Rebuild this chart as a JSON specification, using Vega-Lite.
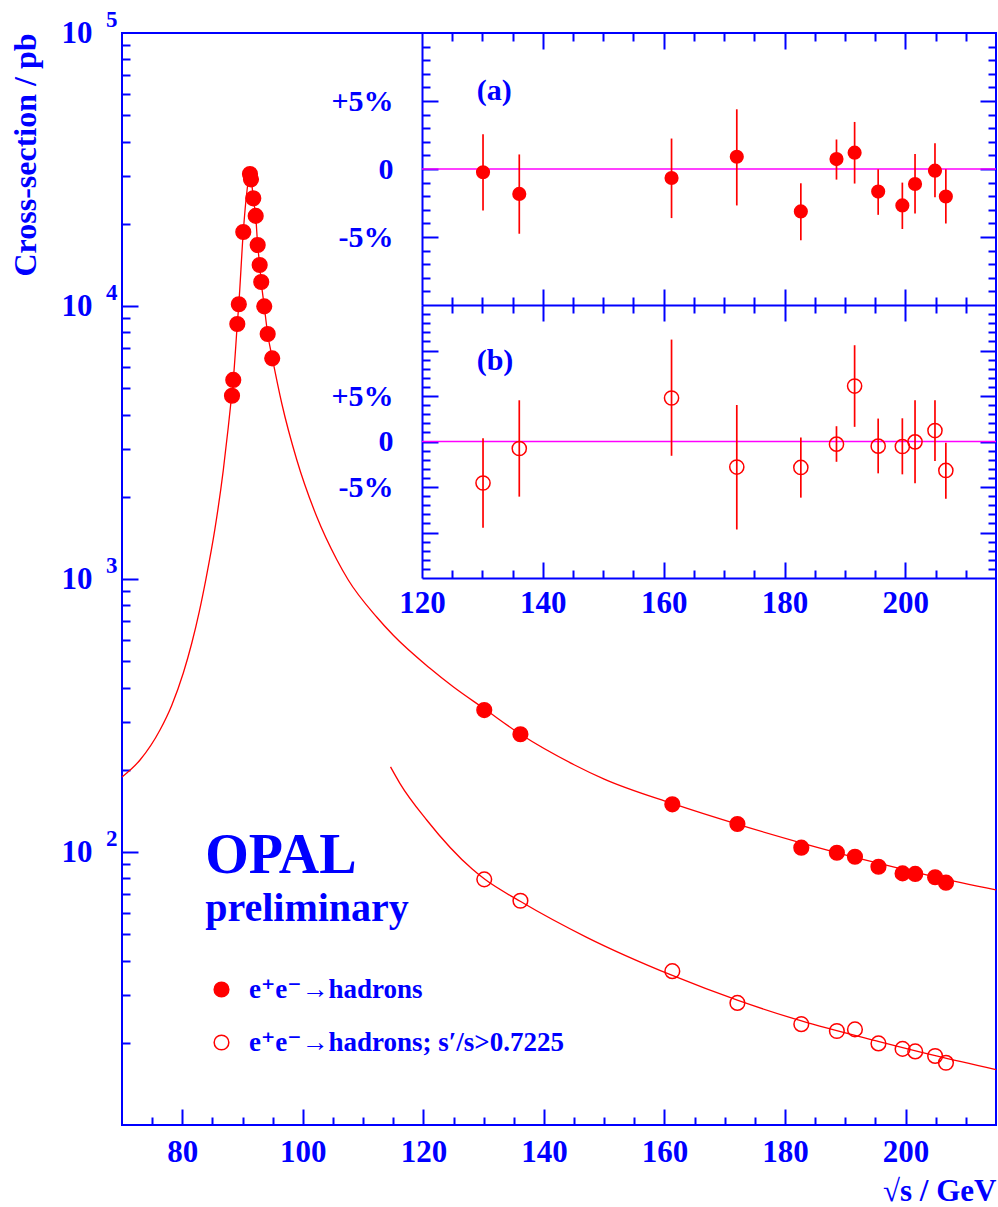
{
  "$schema": "https://vega.github.io/schema/vega-lite/v6.json",
  "width": 874,
  "height": 1092,
  "autosize": {"type": "none"},
  "padding": {"left": 122, "top": 33, "right": 2, "bottom": 82},
  "background": "white",
  "config": {
    "view": {"stroke": "#0000ff", "strokeWidth": 2},
    "axis": {
      "labelFont": "Liberation Serif", "labelFontWeight": "bold", "labelFontSize": 31, "labelColor": "#0000ff",
      "titleFont": "Liberation Serif", "titleFontWeight": "bold", "titleFontSize": 31, "titleColor": "#0000ff",
      "tickColor": "#0000ff", "tickWidth": 2, "domainColor": "#0000ff", "domainWidth": 2,
      "grid": false, "labelFlush": false, "labelOverlap": false
    }
  },
  "datasets": {
    "points": [
      {"E": 88.25, "xsec": 4690, "sample": "e⁺e⁻→hadrons"},
      {"E": 88.46, "xsec": 5360, "sample": "e⁺e⁻→hadrons"},
      {"E": 89.13, "xsec": 8590, "sample": "e⁺e⁻→hadrons"},
      {"E": 89.38, "xsec": 10150, "sample": "e⁺e⁻→hadrons"},
      {"E": 90.12, "xsec": 18660, "sample": "e⁺e⁻→hadrons"},
      {"E": 91.23, "xsec": 30450, "sample": "e⁺e⁻→hadrons"},
      {"E": 91.4, "xsec": 29100, "sample": "e⁺e⁻→hadrons"},
      {"E": 91.78, "xsec": 24800, "sample": "e⁺e⁻→hadrons"},
      {"E": 92.18, "xsec": 21380, "sample": "e⁺e⁻→hadrons"},
      {"E": 92.51, "xsec": 16730, "sample": "e⁺e⁻→hadrons"},
      {"E": 92.84, "xsec": 14130, "sample": "e⁺e⁻→hadrons"},
      {"E": 93.1, "xsec": 12240, "sample": "e⁺e⁻→hadrons"},
      {"E": 93.6, "xsec": 9970, "sample": "e⁺e⁻→hadrons"},
      {"E": 94.17, "xsec": 7895, "sample": "e⁺e⁻→hadrons"},
      {"E": 94.92, "xsec": 6430, "sample": "e⁺e⁻→hadrons"},
      {"E": 130.1, "xsec": 331, "sample": "e⁺e⁻→hadrons"},
      {"E": 136.1, "xsec": 270, "sample": "e⁺e⁻→hadrons"},
      {"E": 161.3, "xsec": 149.5, "sample": "e⁺e⁻→hadrons"},
      {"E": 172.1, "xsec": 126.6, "sample": "e⁺e⁻→hadrons"},
      {"E": 182.7, "xsec": 103.7, "sample": "e⁺e⁻→hadrons"},
      {"E": 188.6, "xsec": 99.4, "sample": "e⁺e⁻→hadrons"},
      {"E": 191.6, "xsec": 96.1, "sample": "e⁺e⁻→hadrons"},
      {"E": 195.5, "xsec": 88.3, "sample": "e⁺e⁻→hadrons"},
      {"E": 199.5, "xsec": 83.5, "sample": "e⁺e⁻→hadrons"},
      {"E": 201.6, "xsec": 83.1, "sample": "e⁺e⁻→hadrons"},
      {"E": 204.9, "xsec": 80.8, "sample": "e⁺e⁻→hadrons"},
      {"E": 206.7, "xsec": 77.2, "sample": "e⁺e⁻→hadrons"},
      {"E": 130.1, "xsec": 79.4, "sample": "e⁺e⁻→hadrons; s′/s>0.7225"},
      {"E": 136.1, "xsec": 66.3, "sample": "e⁺e⁻→hadrons; s′/s>0.7225"},
      {"E": 161.3, "xsec": 36.6, "sample": "e⁺e⁻→hadrons; s′/s>0.7225"},
      {"E": 172.1, "xsec": 28.0, "sample": "e⁺e⁻→hadrons; s′/s>0.7225"},
      {"E": 182.7, "xsec": 23.4, "sample": "e⁺e⁻→hadrons; s′/s>0.7225"},
      {"E": 188.6, "xsec": 22.1, "sample": "e⁺e⁻→hadrons; s′/s>0.7225"},
      {"E": 191.6, "xsec": 22.4, "sample": "e⁺e⁻→hadrons; s′/s>0.7225"},
      {"E": 195.5, "xsec": 19.9, "sample": "e⁺e⁻→hadrons; s′/s>0.7225"},
      {"E": 199.5, "xsec": 19.0, "sample": "e⁺e⁻→hadrons; s′/s>0.7225"},
      {"E": 201.6, "xsec": 18.6, "sample": "e⁺e⁻→hadrons; s′/s>0.7225"},
      {"E": 204.9, "xsec": 17.9, "sample": "e⁺e⁻→hadrons; s′/s>0.7225"},
      {"E": 206.7, "xsec": 16.9, "sample": "e⁺e⁻→hadrons; s′/s>0.7225"}
    ],
    "curves": [
      {"E": 70.0, "xsec": 188.2, "curve": "all"},
      {"E": 72.99, "xsec": 217.3, "curve": "all"},
      {"E": 76.3, "xsec": 279.9, "curve": "all"},
      {"E": 78.245, "xsec": 344.4, "curve": "all"},
      {"E": 80.17, "xsec": 452.6, "curve": "all"},
      {"E": 81.56, "xsec": 580.3, "curve": "all"},
      {"E": 82.82, "xsec": 759.7, "curve": "all"},
      {"E": 83.93, "xsec": 1001.6, "curve": "all"},
      {"E": 85.43, "xsec": 1532, "curve": "all"},
      {"E": 86.8, "xsec": 2501, "curve": "all"},
      {"E": 87.63, "xsec": 3595, "curve": "all"},
      {"E": 88.165, "xsec": 4640, "curve": "all"},
      {"E": 88.46, "xsec": 5360, "curve": "all"},
      {"E": 89.13, "xsec": 8590, "curve": "all"},
      {"E": 89.38, "xsec": 10150, "curve": "all"},
      {"E": 90.12, "xsec": 18660, "curve": "all"},
      {"E": 90.75, "xsec": 26600, "curve": "all"},
      {"E": 91.2, "xsec": 30600, "curve": "all"},
      {"E": 91.45, "xsec": 29100, "curve": "all"},
      {"E": 91.78, "xsec": 24800, "curve": "all"},
      {"E": 92.18, "xsec": 21380, "curve": "all"},
      {"E": 92.51, "xsec": 16730, "curve": "all"},
      {"E": 92.84, "xsec": 14130, "curve": "all"},
      {"E": 93.1, "xsec": 12240, "curve": "all"},
      {"E": 93.6, "xsec": 9970, "curve": "all"},
      {"E": 94.17, "xsec": 7895, "curve": "all"},
      {"E": 94.95, "xsec": 6430, "curve": "all"},
      {"E": 96.53, "xsec": 4375, "curve": "all"},
      {"E": 98.98, "xsec": 2740, "curve": "all"},
      {"E": 102.3, "xsec": 1694, "curve": "all"},
      {"E": 105.62, "xsec": 1179, "curve": "all"},
      {"E": 107.54, "xsec": 991.6, "curve": "all"},
      {"E": 112.25, "xsec": 725.8, "curve": "all"},
      {"E": 115.01, "xsec": 622, "curve": "all"},
      {"E": 121.09, "xsec": 470.9, "curve": "all"},
      {"E": 125.0, "xsec": 402, "curve": "all"},
      {"E": 130.17, "xsec": 334, "curve": "all"},
      {"E": 136.06, "xsec": 270.5, "curve": "all"},
      {"E": 145.0, "xsec": 208.8, "curve": "all"},
      {"E": 150.0, "xsec": 184.9, "curve": "all"},
      {"E": 161.26, "xsec": 150.6, "curve": "all"},
      {"E": 172.19, "xsec": 126.2, "curve": "all"},
      {"E": 182.64, "xsec": 108.1, "curve": "all"},
      {"E": 194.09, "xsec": 92.5, "curve": "all"},
      {"E": 205.04, "xsec": 80.9, "curve": "all"},
      {"E": 215.0, "xsec": 72.6, "curve": "all"},
      {"E": 114.55, "xsec": 205, "curve": "cut"},
      {"E": 116.1, "xsec": 178.5, "curve": "cut"},
      {"E": 120.55, "xsec": 131, "curve": "cut"},
      {"E": 128.1, "xsec": 86.6, "curve": "cut"},
      {"E": 130.2, "xsec": 79.4, "curve": "cut"},
      {"E": 136.06, "xsec": 66.0, "curve": "cut"},
      {"E": 147.1, "xsec": 48.7, "curve": "cut"},
      {"E": 161.3, "xsec": 35.3, "curve": "cut"},
      {"E": 172.2, "xsec": 28.6, "curve": "cut"},
      {"E": 182.6, "xsec": 24.1, "curve": "cut"},
      {"E": 195.6, "xsec": 20.2, "curve": "cut"},
      {"E": 205.1, "xsec": 17.9, "curve": "cut"},
      {"E": 215.0, "xsec": 15.95, "curve": "cut"}
    ],
    "devA": [
      {"E": 130.1, "dev": -0.24, "lo": -3.05, "hi": 2.56},
      {"E": 136.1, "dev": -1.83, "lo": -4.76, "hi": 1.07},
      {"E": 161.3, "dev": -0.66, "lo": -3.61, "hi": 2.24},
      {"E": 172.1, "dev": 0.90, "lo": -2.68, "hi": 4.39},
      {"E": 182.7, "dev": -3.12, "lo": -5.24, "hi": -1.05},
      {"E": 188.6, "dev": 0.73, "lo": -0.78, "hi": 2.17},
      {"E": 191.6, "dev": 1.20, "lo": -1.07, "hi": 3.46},
      {"E": 195.5, "dev": -1.66, "lo": -3.37, "hi": -0.02},
      {"E": 199.5, "dev": -2.68, "lo": -4.41, "hi": -1.0},
      {"E": 201.6, "dev": -1.10, "lo": -3.27, "hi": 1.10},
      {"E": 204.9, "dev": -0.12, "lo": -2.07, "hi": 1.90},
      {"E": 206.7, "dev": -2.02, "lo": -4.0, "hi": -0.02}
    ],
    "devB": [
      {"E": 130.1, "dev": -4.56, "lo": -9.49, "hi": 0.36},
      {"E": 136.1, "dev": -0.77, "lo": -6.06, "hi": 4.53},
      {"E": 161.3, "dev": 4.78, "lo": -1.57, "hi": 11.2},
      {"E": 172.1, "dev": -2.81, "lo": -9.67, "hi": 4.01},
      {"E": 182.7, "dev": -2.85, "lo": -6.17, "hi": 0.44},
      {"E": 188.6, "dev": -0.29, "lo": -2.23, "hi": 1.68},
      {"E": 191.6, "dev": 6.09, "lo": 1.61, "hi": 10.58},
      {"E": 195.5, "dev": -0.51, "lo": -3.50, "hi": 2.52},
      {"E": 199.5, "dev": -0.55, "lo": -3.61, "hi": 2.55},
      {"E": 201.6, "dev": -0.04, "lo": -4.60, "hi": 4.53},
      {"E": 204.9, "dev": 1.20, "lo": -2.15, "hi": 4.53},
      {"E": 206.7, "dev": -3.18, "lo": -6.28, "hi": -0.15}
    ]
  },
  "layer": [
    {
      "layer": [
        {
          "data": {"name": "curves"},
          "mark": {"type": "line", "color": "#ff0000", "strokeWidth": 1.3, "interpolate": "monotone"},
          "encoding": {
            "x": {"field": "E", "type": "quantitative", "scale": {"domain": [70, 215], "nice": false, "zero": false},
              "axis": {"orient": "bottom", "values": [75,80,85,90,95,100,105,110,115,120,125,130,135,140,145,150,155,160,165,170,175,180,185,190,195,200,205,210],
                "labels": false, "domain": false, "title": null,
                "tickSize": {"condition": {"test": "datum.value % 20 == 0", "value": -16}, "value": -8}}},
            "y": {"field": "xsec", "type": "quantitative", "scale": {"type": "log", "domain": [10, 100000], "nice": false},
              "axis": {"orient": "left", "values": [20,30,40,50,60,70,80,90,100,200,300,400,500,600,700,800,900,1000,2000,3000,4000,5000,6000,7000,8000,9000,10000,20000,30000,40000,50000,60000,70000,80000,90000],
                "labels": false, "domain": false, "title": null,
                "tickSize": {"condition": {"test": "datum.value == 100 || datum.value == 1000 || datum.value == 10000", "value": -16}, "value": -8}}},
            "detail": {"field": "curve", "type": "nominal"}
          }
        },
        {
          "data": {"name": "points"},
          "mark": {"type": "point", "shape": "circle", "filled": true, "size": 215, "stroke": "#ff0000", "strokeWidth": 1.5, "opacity": 1},
          "encoding": {
            "x": {"field": "E", "type": "quantitative", "scale": {"domain": [70, 215], "nice": false, "zero": false},
              "axis": {"orient": "bottom", "values": [80,100,120,140,160,180,200], "ticks": false, "domain": false, "labelPadding": 12,
                "title": "√s / GeV", "titleX": 874, "titleY": 75, "titleAlign": "right", "titleBaseline": "alphabetic"}},
            "y": {"field": "xsec", "type": "quantitative", "scale": {"type": "log", "domain": [10, 100000], "nice": false},
              "axis": {"orient": "left", "values": [100,1000,10000,100000], "labelExpr": "'10'", "ticks": false, "domain": false, "labelPadding": 30,
                "title": "Cross-section / pb", "titleX": -97, "titleY": 0, "titleAngle": -90, "titleAlign": "right", "titleBaseline": "middle", "titleFontSize": 32}},
            "fill": {"field": "sample", "type": "nominal",
              "scale": {"domain": ["e⁺e⁻→hadrons", "e⁺e⁻→hadrons; s′/s>0.7225"], "range": ["#ff0000", "transparent"]},
              "legend": {"orient": "none", "legendX": 86, "legendY": 943, "title": null, "padding": 0,
                "labelFont": "Liberation Serif, DejaVu Serif", "labelFontWeight": "bold", "labelFontSize": 27, "labelColor": "#0000ff", "labelLimit": 0,
                "symbolType": "circle", "symbolSize": 215, "symbolStrokeColor": "#ff0000", "symbolStrokeWidth": 1.5,
                "rowPadding": 25, "labelOffset": 14}}
          }
        },
        {
          "data": {"values": [{}]},
          "mark": {"type": "text", "text": "OPAL", "font": "Liberation Serif", "fontWeight": "bold", "fontSize": 56, "color": "#0000ff", "align": "left", "baseline": "alphabetic"},
          "encoding": {
            "x": {"datum": 83.8, "type": "quantitative", "scale": {"domain": [70, 215], "nice": false, "zero": false}, "axis": null},
            "y": {"datum": 84, "type": "quantitative", "scale": {"type": "log", "domain": [10, 100000], "nice": false},
              "axis": {"orient": "left", "values": [100,1000,10000,100000],
                "labelExpr": "datum.value == 100 ? '2' : datum.value == 1000 ? '3' : datum.value == 10000 ? '4' : '5'",
                "ticks": false, "domain": false, "labelPadding": 5, "labelOffset": -14, "labelFontSize": 23, "title": null}}
          }
        },
        {
          "data": {"values": [{}]},
          "mark": {"type": "text", "text": "preliminary", "font": "Liberation Serif", "fontWeight": "bold", "fontSize": 40, "color": "#0000ff", "align": "left", "baseline": "alphabetic"},
          "encoding": {
            "x": {"datum": 83.8, "type": "quantitative", "scale": {"domain": [70, 215], "nice": false, "zero": false}, "axis": null},
            "y": {"datum": 56, "type": "quantitative", "scale": {"type": "log", "domain": [10, 100000], "nice": false}, "axis": null}
          }
        }
      ],
      "resolve": {"axis": {"x": "independent", "y": "independent"}}
    },
    {
      "layer": [
        {
          "data": {"values": [{}]},
          "mark": {"type": "rule", "color": "#ff00ff", "strokeWidth": 1.5},
          "encoding": {
            "x": {"datum": 120, "type": "quantitative", "scale": {"domain": [120, 215], "range": [300, 874], "nice": false, "zero": false},
              "axis": {"orient": "top", "values": [125,130,135,140,145,150,155,160,165,170,175,180,185,190,195,200,205,210],
                "labels": false, "domain": false, "title": null,
                "tickSize": {"condition": {"test": "datum.value % 20 == 0", "value": -16}, "value": -8}}},
            "x2": {"datum": 215},
            "y": {"datum": 0, "type": "quantitative", "scale": {"domain": [-10, 10], "range": [272, 0], "nice": false, "zero": false},
              "axis": {"orient": "right", "values": [-9,-8,-7,-6,-5,-4,-3,-2,-1,0,1,2,3,4,5,6,7,8,9],
                "labels": false, "domain": false, "title": null,
                "tickSize": {"condition": {"test": "datum.value % 5 == 0", "value": -16}, "value": -8}}}
          }
        },
        {
          "data": {"name": "devA"},
          "mark": {"type": "rule", "color": "#ff0000", "strokeWidth": 1.7},
          "encoding": {
            "x": {"field": "E", "type": "quantitative", "scale": {"domain": [120, 215], "range": [300, 874], "nice": false, "zero": false},
              "axis": {"orient": "bottom", "offset": -820, "values": [125,130,135,140,145,150,155,160,165,170,175,180,185,190,195,200,205,210],
                "labels": false, "domain": true, "title": null,
                "tickSize": {"condition": {"test": "datum.value % 20 == 0", "value": -16}, "value": -8}}},
            "y": {"field": "lo", "type": "quantitative", "scale": {"domain": [-10, 10], "range": [272, 0], "nice": false, "zero": false},
              "axis": {"orient": "left", "offset": -300, "values": [-9,-8,-7,-6,-5,-4,-3,-2,-1,0,1,2,3,4,5,6,7,8,9],
                "labels": false, "domain": true, "title": null,
                "tickSize": {"condition": {"test": "datum.value % 5 == 0", "value": -16}, "value": -8}}},
            "y2": {"field": "hi"}
          }
        },
        {
          "data": {"name": "devA"},
          "mark": {"type": "point", "shape": "circle", "filled": true, "color": "#ff0000", "size": 200, "opacity": 1},
          "encoding": {
            "x": {"field": "E", "type": "quantitative", "scale": {"domain": [120, 215], "range": [300, 874], "nice": false, "zero": false}, "axis": null},
            "y": {"field": "dev", "type": "quantitative", "scale": {"domain": [-10, 10], "range": [272, 0], "nice": false, "zero": false},
              "axis": {"orient": "left", "offset": -300, "values": [-5, 0, 5],
                "labelExpr": "datum.value > 0 ? '+' + datum.value + '%' : (datum.value < 0 ? datum.value + '%' : '0')",
                "ticks": false, "domain": false, "labelPadding": 29, "labelFontSize": 30, "title": null}}
          }
        },
        {
          "data": {"values": [{}]},
          "mark": {"type": "text", "text": "(a)", "font": "Liberation Serif", "fontWeight": "bold", "fontSize": 30, "color": "#0000ff", "align": "left", "baseline": "middle"},
          "encoding": {
            "x": {"datum": 129.05, "type": "quantitative", "scale": {"domain": [120, 215], "range": [300, 874], "nice": false, "zero": false}, "axis": null},
            "y": {"datum": 5.73, "type": "quantitative", "scale": {"domain": [-10, 10], "range": [272, 0], "nice": false, "zero": false}, "axis": null}
          }
        }
      ],
      "resolve": {"axis": {"x": "independent", "y": "independent"}}
    },
    {
      "layer": [
        {
          "data": {"values": [{}]},
          "mark": {"type": "rule", "color": "#ff00ff", "strokeWidth": 1.5},
          "encoding": {
            "x": {"datum": 120, "type": "quantitative", "scale": {"domain": [120, 215], "range": [300, 874], "nice": false, "zero": false},
              "axis": {"orient": "top", "offset": -272, "values": [125,130,135,140,145,150,155,160,165,170,175,180,185,190,195,200,205,210],
                "labels": false, "domain": false, "title": null,
                "tickSize": {"condition": {"test": "datum.value % 20 == 0", "value": -16}, "value": -8}}},
            "x2": {"datum": 215},
            "y": {"datum": 0, "type": "quantitative", "scale": {"domain": [-15, 15], "range": [545, 272], "nice": false, "zero": false},
              "axis": {"orient": "right", "values": [-14,-13,-12,-11,-10,-9,-8,-7,-6,-5,-4,-3,-2,-1,0,1,2,3,4,5,6,7,8,9,10,11,12,13,14],
                "labels": false, "domain": false, "title": null,
                "tickSize": {"condition": {"test": "datum.value % 5 == 0", "value": -16}, "value": -8}}}
          }
        },
        {
          "data": {"name": "devB"},
          "mark": {"type": "rule", "color": "#ff0000", "strokeWidth": 1.7},
          "encoding": {
            "x": {"field": "E", "type": "quantitative", "scale": {"domain": [120, 215], "range": [300, 874], "nice": false, "zero": false},
              "axis": {"orient": "bottom", "offset": -547, "values": [125,130,135,140,145,150,155,160,165,170,175,180,185,190,195,200,205,210],
                "labels": false, "domain": true, "title": null,
                "tickSize": {"condition": {"test": "datum.value % 20 == 0", "value": -16}, "value": -8}}},
            "y": {"field": "lo", "type": "quantitative", "scale": {"domain": [-15, 15], "range": [545, 272], "nice": false, "zero": false},
              "axis": {"orient": "left", "offset": -300, "values": [-14,-13,-12,-11,-10,-9,-8,-7,-6,-5,-4,-3,-2,-1,0,1,2,3,4,5,6,7,8,9,10,11,12,13,14],
                "labels": false, "domain": true, "title": null,
                "tickSize": {"condition": {"test": "datum.value % 5 == 0", "value": -16}, "value": -8}}},
            "y2": {"field": "hi"}
          }
        },
        {
          "data": {"name": "devB"},
          "mark": {"type": "point", "shape": "circle", "filled": false, "color": "#ff0000", "strokeWidth": 1.5, "size": 200, "opacity": 1, "fill": "transparent"},
          "encoding": {
            "x": {"field": "E", "type": "quantitative", "scale": {"domain": [120, 215], "range": [300, 874], "nice": false, "zero": false},
              "axis": {"orient": "bottom", "offset": -547, "values": [120, 140, 160, 180, 200], "ticks": false, "domain": false, "labelPadding": 10, "title": null}},
            "y": {"field": "dev", "type": "quantitative", "scale": {"domain": [-15, 15], "range": [545, 272], "nice": false, "zero": false},
              "axis": {"orient": "left", "offset": -300, "values": [-5, 0, 5],
                "labelExpr": "datum.value > 0 ? '+' + datum.value + '%' : (datum.value < 0 ? datum.value + '%' : '0')",
                "ticks": false, "domain": false, "labelPadding": 29, "labelFontSize": 30, "title": null}}
          }
        },
        {
          "data": {"values": [{}]},
          "mark": {"type": "text", "text": "(b)", "font": "Liberation Serif", "fontWeight": "bold", "fontSize": 30, "color": "#0000ff", "align": "left", "baseline": "middle"},
          "encoding": {
            "x": {"datum": 129.05, "type": "quantitative", "scale": {"domain": [120, 215], "range": [300, 874], "nice": false, "zero": false}, "axis": null},
            "y": {"datum": 8.8, "type": "quantitative", "scale": {"domain": [-15, 15], "range": [545, 272], "nice": false, "zero": false}, "axis": null}
          }
        }
      ],
      "resolve": {"axis": {"x": "independent", "y": "independent"}}
    }
  ],
  "resolve": {"scale": {"x": "independent", "y": "independent"}, "axis": {"x": "independent", "y": "independent"}}
}
